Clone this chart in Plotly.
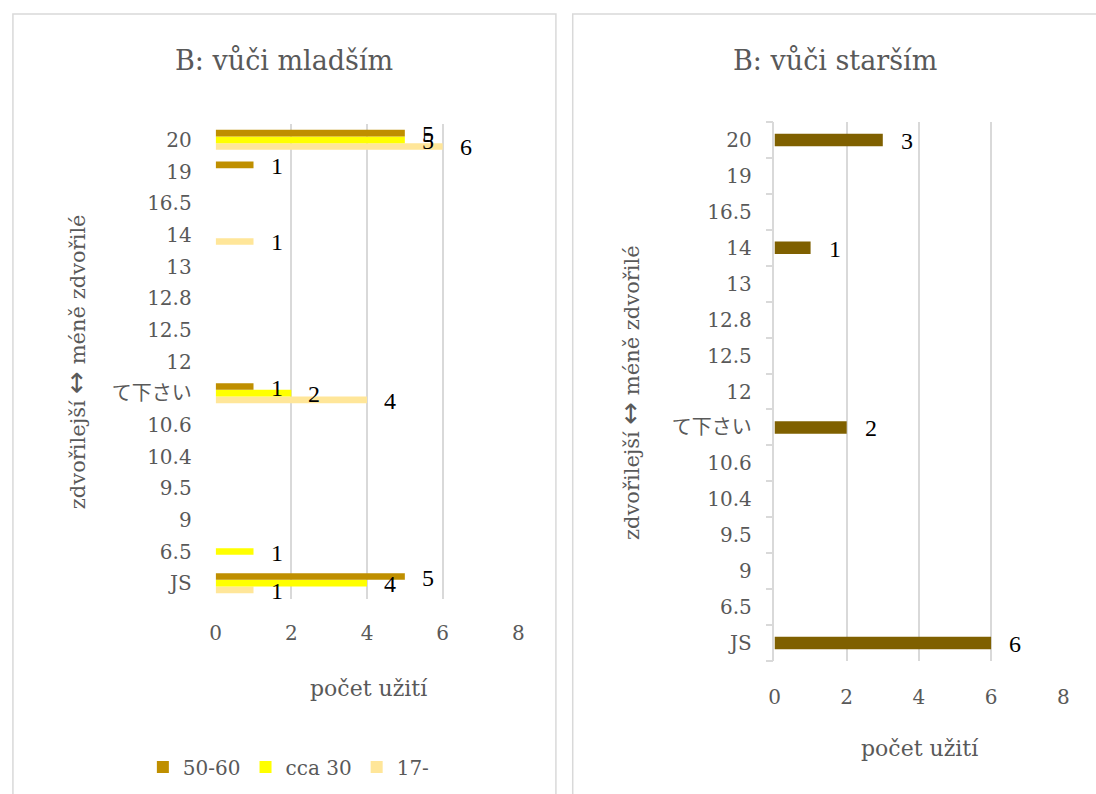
import plotly.graph_objects as go

W, H = 1096, 794

# Category order, bottom to top
categories = ["JS", "6.5", "9", "9.5", "10.4", "10.6", "て下さい", "12",
              "12.5", "12.8", "13", "14", "16.5", "19", "20"]

# Left chart: "B: vůči mladším" – counts per age group
young_50_60 = [5, 0, 0, 0, 0, 0, 1, 0, 0, 0, 0, 0, 0, 1, 5]
young_cca30 = [4, 1, 0, 0, 0, 0, 2, 0, 0, 0, 0, 0, 0, 0, 5]
young_17 = [1, 0, 0, 0, 0, 0, 4, 0, 0, 0, 0, 1, 0, 0, 6]

# Right chart: "B: vůči starším"
older_vals = [6, 0, 0, 0, 0, 0, 2, 0, 0, 0, 0, 1, 0, 0, 3]

x_ticks = [0, 2, 4, 6, 8]

C_50_60 = "#BF8F00"
C_CCA30 = "#FFFF00"
C_17 = "#FFE699"
C_OLDER = "#7F6000"
GRID = "#D9D9D9"
TXT = "#595959"
FONT = "DejaVu Serif, Noto Sans CJK JP, serif"
LABEL_FONT = "Liberation Serif, serif"


def px(x):
    return x / W


def py(y):
    return 1 - y / H


fig = go.Figure()

# Left chart bars (first trace sits lowest in each group)
left_series = [("17-", young_17, C_17),
               ("cca 30", young_cca30, C_CCA30),
               ("50-60", young_50_60, C_50_60)]
for name, vals, col in left_series:
    fig.add_trace(go.Bar(
        y=categories, x=vals, name=name, orientation="h",
        marker=dict(color=col, line=dict(width=0)),
        xaxis="x", yaxis="y", showlegend=True,
    ))

fig.add_trace(go.Bar(
    y=categories, x=older_vals, name="older", orientation="h",
    marker=dict(color=C_OLDER, line=dict(width=0)),
    xaxis="x2", yaxis="y2", showlegend=False, width=0.345,
))

annotations = []

# Value labels, left chart: three bars per group (positions by category index)
left_cat_px = 31.6
bargap_left = 0.367
bar_px = (1 - bargap_left) * left_cat_px / 3
for i, (name, vals, col) in enumerate(left_series):
    shift = (i - 1) * bar_px
    for idx, v in enumerate(vals):
        if v > 0:
            annotations.append(dict(
                x=v, y=idx, xref="x", yref="y", text=str(v),
                showarrow=False, xanchor="left", yanchor="middle",
                xshift=15, yshift=shift - 1,
                font=dict(family=LABEL_FONT, size=24, color="#000000"),
            ))

# Value labels, right chart
for idx, v in enumerate(older_vals):
    if v > 0:
        annotations.append(dict(
            x=v, y=idx, xref="x2", yref="y2", text=str(v),
            showarrow=False, xanchor="left", yanchor="middle",
            xshift=16, yshift=-1,
            font=dict(family=LABEL_FONT, size=24, color="#000000"),
        ))

# Chart titles
annotations.append(dict(x=px(281), y=py(60), xref="paper", yref="paper",
                        text="B: vůči mladším", showarrow=False,
                        xanchor="center", yanchor="middle",
                        font=dict(family=FONT, size=27, color=TXT)))
annotations.append(dict(x=px(838), y=py(60), xref="paper", yref="paper",
                        text="B: vůči starším", showarrow=False,
                        xanchor="center", yanchor="middle",
                        font=dict(family=FONT, size=27, color=TXT)))

# Axis titles
ytitle = ("zdvořilejší <span style='font-family:DejaVu Sans;font-size:27px'>↔</span>"
          " méně zdvořilé")
annotations.append(dict(x=px(70), y=py(362), xref="paper", yref="paper",
                        text=ytitle, showarrow=False, textangle=-90,
                        xanchor="center", yanchor="middle",
                        font=dict(family=FONT, size=21, color=TXT)))
annotations.append(dict(x=px(630), y=py(393), xref="paper", yref="paper",
                        text=ytitle, showarrow=False, textangle=-90,
                        xanchor="center", yanchor="middle",
                        font=dict(family=FONT, size=21, color=TXT)))
annotations.append(dict(x=px(367), y=py(688), xref="paper", yref="paper",
                        text="počet užití", showarrow=False,
                        xanchor="center", yanchor="middle",
                        font=dict(family=FONT, size=22, color=TXT)))
annotations.append(dict(x=px(924), y=py(748), xref="paper", yref="paper",
                        text="počet užití", showarrow=False,
                        xanchor="center", yanchor="middle",
                        font=dict(family=FONT, size=22, color=TXT)))

# Panel frames
shapes = [
    dict(type="rect", xref="paper", yref="paper",
         x0=px(7), x1=px(556), y0=-0.02, y1=py(14),
         line=dict(color=GRID, width=1.5), fillcolor="rgba(0,0,0,0)"),
    dict(type="rect", xref="paper", yref="paper",
         x0=px(573), x1=1.02, y0=-0.02, y1=py(14),
         line=dict(color=GRID, width=1.5), fillcolor="rgba(0,0,0,0)"),
]

tickfont = dict(family=FONT, size=20, color=TXT)
cat_range = [-0.5, len(categories) - 0.5]

fig.update_layout(
    width=W, height=H,
    margin=dict(l=0, r=0, t=0, b=0),
    paper_bgcolor="white", plot_bgcolor="white",
    barmode="group", bargap=bargap_left, bargroupgap=0,
    font=dict(family=FONT, color=TXT),
    annotations=annotations, shapes=shapes,
    legend=dict(orientation="h", traceorder="reversed",
                x=px(286), xanchor="center", y=py(767), yanchor="middle",
                font=dict(family=FONT, size=20, color=TXT),
                itemwidth=30, bgcolor="rgba(0,0,0,0)"),
    xaxis=dict(domain=[px(212), px(518)], anchor="y", range=[0, 8],
               tickvals=x_ticks, showgrid=True, gridcolor=GRID, gridwidth=1.5,
               zeroline=False, showline=False, ticks="",
               tickfont=tickfont, ticklabelstandoff=20, fixedrange=True),
    yaxis=dict(domain=[py(599), py(124)], anchor="x", type="category",
               categoryorder="array", categoryarray=categories,
               range=cat_range, tickmode="array",
               tickvals=categories, ticktext=categories,
               showgrid=False, zeroline=False, showline=False, ticks="",
               tickfont=tickfont, ticklabelstandoff=23, fixedrange=True),
    xaxis2=dict(domain=[px(777), px(1069)], anchor="y2", range=[0, 8],
                tickvals=x_ticks, showgrid=True, gridcolor=GRID, gridwidth=1.5,
                zeroline=False, showline=False, ticks="",
                tickfont=tickfont, ticklabelstandoff=22, fixedrange=True),
    yaxis2=dict(domain=[py(661), py(122)], anchor="x2", type="category",
                categoryorder="array", categoryarray=categories,
                range=cat_range, tickmode="array",
                tickvals=categories, ticktext=categories,
                showgrid=False, zeroline=False, showline=True,
                linecolor=GRID, linewidth=1.5,
                ticks="outside", tickson="boundaries", ticklen=7,
                tickcolor=GRID, tickwidth=1.5,
                tickfont=tickfont, ticklabelstandoff=17, fixedrange=True),
)

fig.write_html("out.html")
